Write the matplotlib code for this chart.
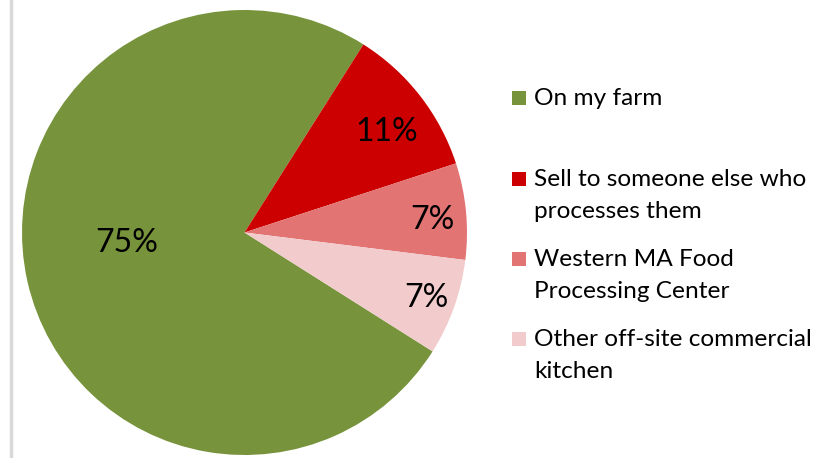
import numpy as np
import matplotlib
matplotlib.use("Agg")
import matplotlib.pyplot as plt
from matplotlib.patches import Rectangle

plt.rcParams['font.family'] = ['Lato', 'DejaVu Sans']

# Where producers process their products (share of respondents, %)
categories = [
    "On my farm",
    "Sell to someone else who\nprocesses them",
    "Western MA Food\nProcessing Center",
    "Other off-site commercial\nkitchen",
]
shares = [75, 11, 7, 7]
colors = ["#77933C", "#CC0000", "#E37474", "#F2CCCC"]

W, H = 817, 458
fig = plt.figure(figsize=(W / 100, H / 100), dpi=100)
fig.patch.set_facecolor("white")

# thin grey frame edge on the left
fig.add_artist(plt.Line2D([11 / W, 11 / W], [0, 1], color="#D9D9D9", lw=2.5,
                          transform=fig.transFigure))

# pie area (pixel box converted to figure fractions)
cx, cy, r = 244.5, H - 232.5, 222.5
ax = fig.add_axes([(cx - r) / W, (cy - r) / H, 2 * r / W, 2 * r / H])
wedges, _ = ax.pie(shares, colors=colors, startangle=-32.3, counterclock=False,
                   radius=1.0, wedgeprops=dict(linewidth=0))
ax.set_xlim(-1, 1)
ax.set_ylim(-1, 1)
ax.set_aspect("equal")
ax.axis("off")

# percentage labels placed along each wedge
label_dist = [0.53, 0.78, 0.845, 0.867]
label_turn = [-7.7, -2.7, -1.7, 0.0]
for w, v, d, t in zip(wedges, shares, label_dist, label_turn):
    mid = np.deg2rad((w.theta1 + w.theta2) / 2 + t)
    ax.text(d * np.cos(mid), d * np.sin(mid), f"{v}%", ha="center", va="center",
            fontsize=23, color="black")

# legend: square swatch + wrapped label, first-line baselines stacked
first_base = [105, 186, 266, 346]
line_gap = 32
sw = 14
for cat, col, yb in zip(categories, colors, first_base):
    fig.add_artist(Rectangle((512 / W, (H - yb) / H), sw / W, sw / H,
                             facecolor=col, edgecolor="none",
                             transform=fig.transFigure))
    for i, line in enumerate(cat.split("\n")):
        fig.text(534 / W, (H - yb - i * line_gap) / H, line, ha="left",
                 va="baseline", fontsize=17.6, color="black")

fig.savefig("out.png", dpi=100)
